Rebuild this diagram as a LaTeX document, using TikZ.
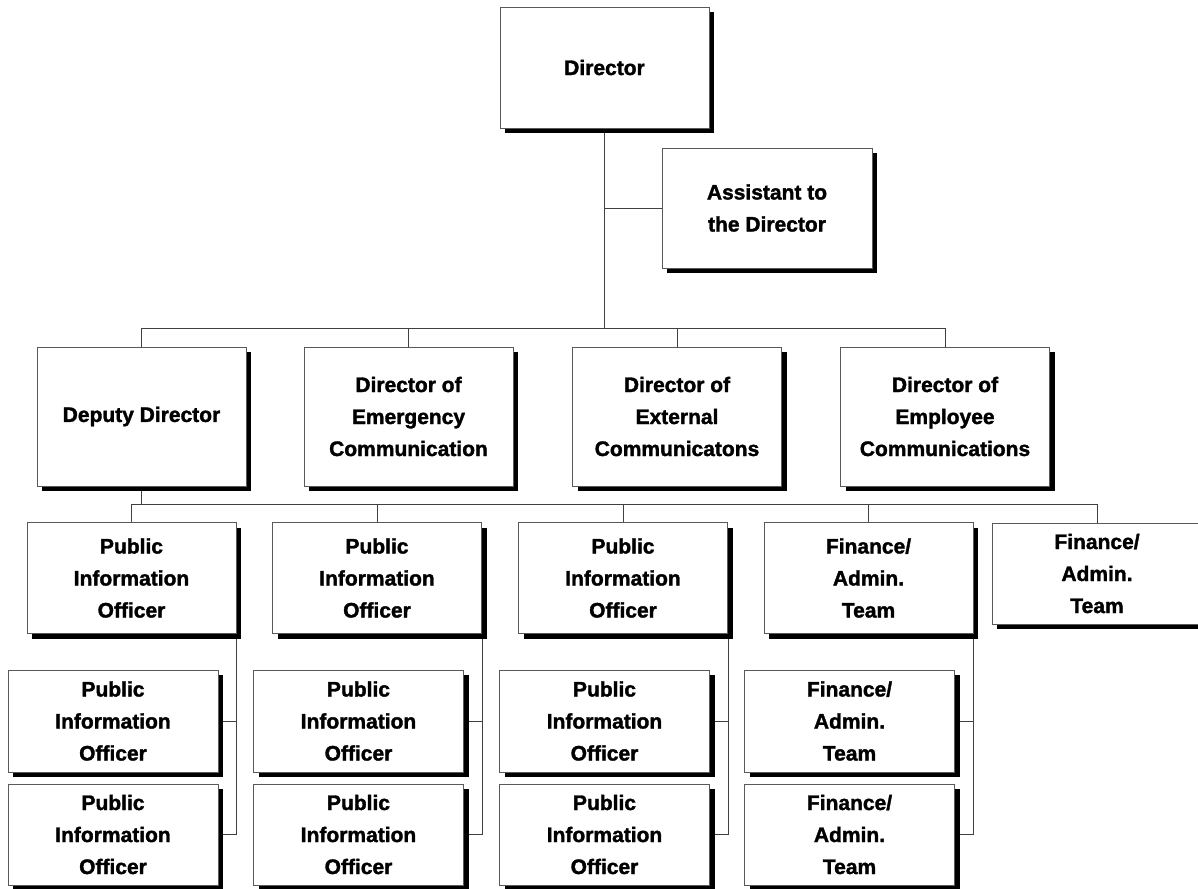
\documentclass[tikz,border=0pt]{standalone}
\usepackage{fontspec}
\setmainfont{Liberation Sans}[BoldFeatures={FakeBold=1.6}]
\usetikzlibrary{shadows,backgrounds}

\tikzset{
  orgbox/.style={draw=black!65, line width=0.8pt, fill=white, align=center,
    inner sep=0pt, font=\fontsize{21}{32}\selectfont\bfseries,
    drop shadow={shadow xshift=5pt, shadow yshift=-5pt, fill=black, opacity=1}},
  link/.style={draw=black!75, line width=0.8pt}
}

\begin{document}
\begin{tikzpicture}[x=1pt, y=-1pt]
    \useasboundingbox (0,0) rectangle (1198,888);
    \def\w{209pt} % box width

    % Top of the chart
    \node[orgbox, minimum width=\w, minimum height=121pt] (dir) at (604.5,67.5) {Director};
    \node[orgbox, minimum width=210pt, minimum height=120pt] (asst) at (767,208) {Assistant to\\the Director};

    % Second level
    \node[orgbox, minimum width=\w, minimum height=139pt] (dep) at (141.5,416.5) {Deputy Director};
    \node[orgbox, minimum width=\w, minimum height=139pt] (emg) at (408.5,416.5) {Director of\\Emergency\\Communication};
    \node[orgbox, minimum width=\w, minimum height=139pt] (ext) at (677,416.5) {Director of\\External\\Communicatons};
    \node[orgbox, minimum width=\w, minimum height=139pt] (emp) at (945,416.5) {Director of\\Employee\\Communications};

    % Third level
    \foreach \i/\cx in {1/131.5, 2/377, 3/623} {
        \node[orgbox, minimum width=\w, minimum height=111pt] (off\i) at (\cx,578) {Public\\Information\\Officer};
    }
    \node[orgbox, minimum width=\w, minimum height=111pt] (off4) at (868.5,578) {Finance/\\Admin.\\Team};
    \node[orgbox, minimum width=210pt, minimum height=101pt] (off5) at (1097,573.5) {Finance/\\Admin.\\Team};

    % Fourth level, two boxes under each of the first four
    \foreach \i/\cx/\lab in {1/113/{Public\\Information\\Officer}, 2/358.5/{Public\\Information\\Officer},
                             3/604.5/{Public\\Information\\Officer}, 4/849.5/{Finance/\\Admin.\\Team}} {
        \node[orgbox, minimum width=210pt, minimum height=102pt] (sta\i) at (\cx,721) {\lab};
        \node[orgbox, minimum width=210pt, minimum height=101pt] (stb\i) at (\cx,834.5) {\lab};
    }

    % Connectors
    \begin{scope}[on background layer]
        \coordinate (bus2) at (0,328);
        \coordinate (bus3) at (0,504);
        \draw[link] (dir.south) -- (dir.south |- bus2);
        \draw[link] (asst.west) -- (asst.west -| dir.south);
        \draw[link] (dep.north |- bus2) -- (emp.north |- bus2);
        \foreach \n in {dep,emg,ext,emp}
            \draw[link] (\n.north) -- (\n.north |- bus2);

        \draw[link] (dep.south) -- (dep.south |- bus3);
        \draw[link] (off1.north |- bus3) -- (off5.north |- bus3);
        \foreach \i in {1,...,5}
            \draw[link] (off\i.north) -- (off\i.north |- bus3);

        \foreach \i in {1,...,4} {
            \draw[link] (off\i.south east) -- (off\i.south east |- stb\i.east);
            \draw[link] (sta\i.east) -- (sta\i.east -| off\i.south east);
            \draw[link] (stb\i.east) -- (stb\i.east -| off\i.south east);
        }
    \end{scope}
\end{tikzpicture}
\end{document}
